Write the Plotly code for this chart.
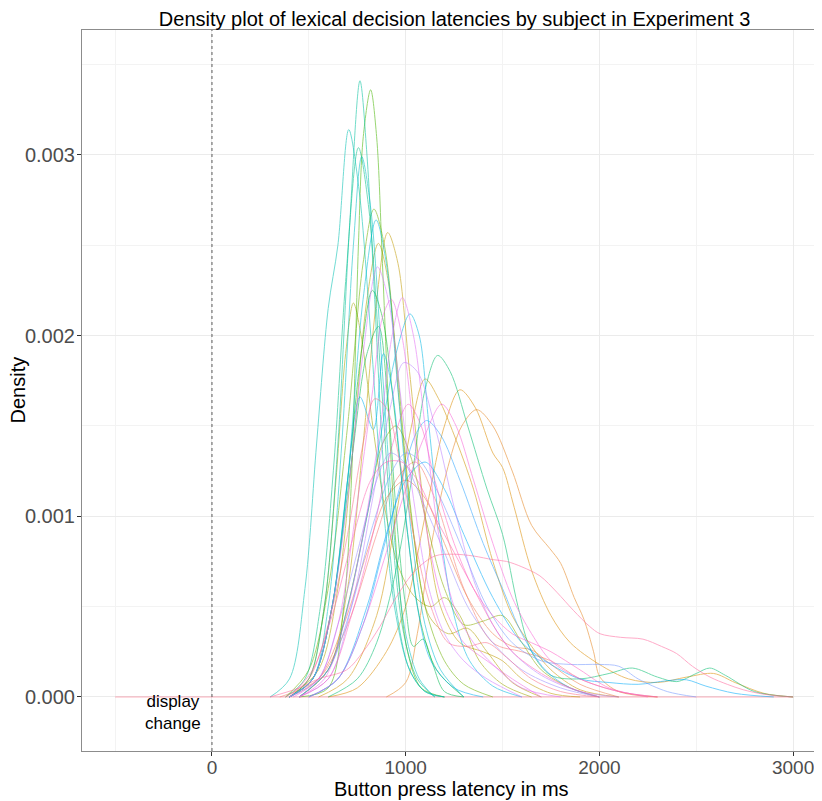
import math
import numpy as np
import plotly.graph_objects as go

# ---- data: knots of each subject's density curve (x in ms, density in units of 1e-4) ----
subject_x = [
    [-500, 350, 550, 700, 850, 950, 1050, 1150, 1300, 1450, 1600, 1750, 1900, 2100, 2300, 3000],
    [-500, 400, 550, 680, 800, 900, 1000, 1100, 1200, 1320, 1450, 1550, 1650, 1750, 1900, 2100, 3000],
    [-500, 900, 1000, 1060, 1125, 1210, 1290, 1366, 1450, 1550, 1650, 1745, 1800, 1870, 1920, 1970, 2003, 2100, 2300, 3000],
    [-500, 600, 750, 900, 1000, 1100, 1200, 1280, 1360, 1450, 1500, 1560, 1650, 1750, 1850, 2000, 2150, 2300, 2450, 2590, 2700, 2850, 3000],
    [-500, 550, 700, 850, 950, 1030, 1100, 1170, 1250, 1350, 1450, 1550, 1650, 1750, 1900, 2100, 3000],
    [-500, 450, 600, 700, 780, 850, 907, 960, 1020, 1100, 1180, 1280, 1400, 1500, 1600, 1750, 1900, 3000],
    [-500, 400, 550, 650, 730, 800, 859, 910, 970, 1040, 1120, 1220, 1320, 1420, 1550, 1700, 3000],
    [-500, 400, 500, 580, 640, 690, 730, 770, 830, 900, 970, 1050, 1130, 1200, 1280, 1380, 1500, 1650, 3000],
    [-500, 450, 600, 700, 800, 880, 950, 1020, 1100, 1200, 1300, 1400, 1500, 1600, 1700, 1850, 2000, 3000],
    [-500, 380, 500, 600, 700, 780, 836, 890, 950, 1020, 1100, 1200, 1300, 1450, 3000],
    [-500, 450, 600, 680, 720, 756, 781, 819, 850, 880, 920, 960, 1010, 1080, 1200, 3000],
    [-500, 400, 520, 620, 700, 770, 828, 880, 940, 1010, 1080, 1160, 1300, 3000],
    [-500, 400, 520, 620, 720, 800, 860, 910, 960, 1000, 1040, 1090, 1140, 1200, 1300, 3000],
    [-500, 600, 750, 850, 950, 1030, 1100, 1165, 1230, 1320, 1420, 1500, 1580, 1650, 1750, 1900, 2050, 2170, 2300, 2400, 2500, 2570, 2650, 2800, 3000],
    [-500, 380, 480, 560, 630, 690, 756, 810, 870, 930, 990, 1060, 1150, 3000],
    [-500, 400, 500, 580, 650, 710, 764, 800, 840, 890, 950, 1020, 1100, 1200, 3000],
    [-500, 300, 400, 480, 540, 600, 650, 706, 760, 820, 880, 950, 1020, 1100, 1200, 3000],
    [-500, 400, 520, 600, 670, 730, 773, 820, 880, 940, 1000, 1070, 1150, 3000],
    [-500, 400, 520, 620, 700, 780, 847, 900, 960, 1030, 1100, 1180, 1300, 3000],
    [-500, 450, 600, 700, 800, 880, 950, 1022, 1070, 1120, 1180, 1250, 1330, 1450, 1600, 3000],
    [-500, 400, 520, 620, 700, 764, 833, 885, 930, 990, 1060, 1130, 1250, 1400, 3000],
    [-500, 500, 650, 800, 900, 1000, 1100, 1200, 1300, 1450, 1600, 1750, 1900, 2050, 2200, 2350, 2450, 2550, 2700, 2900, 3000],
    [-500, 500, 650, 780, 880, 980, 1050, 1108, 1180, 1280, 1400, 1500, 1600, 1720, 1850, 2000, 3000],
    [-500, 450, 600, 720, 830, 930, 1000, 1080, 1180, 1300, 1420, 1550, 1700, 1850, 2000, 2100, 2200, 2350, 2500, 3000],
    [-500, 400, 550, 650, 750, 850, 920, 990, 1080, 1200, 1320, 1450, 1600, 1800, 2000, 3000],
    [-500, 450, 600, 720, 830, 920, 990, 1060, 1150, 1250, 1350, 1450, 1550, 1700, 1900, 2100, 3000],
    [-500, 400, 520, 620, 700, 780, 854, 910, 970, 1040, 1120, 1200, 1300, 1420, 1600, 3000],
    [-500, 450, 580, 680, 780, 870, 930, 983, 1040, 1100, 1170, 1250, 1350, 1450, 1600, 1800, 3000],
    [-500, 420, 550, 650, 740, 830, 880, 926, 980, 1050, 1120, 1200, 1300, 1420, 1550, 1700, 3000],
    [-500, 500, 650, 780, 900, 1000, 1100, 1186, 1260, 1350, 1450, 1550, 1650, 1750, 1900, 2100, 2300, 3000],
    [-500, 450, 600, 720, 830, 920, 1013, 1080, 1150, 1250, 1350, 1450, 1550, 1650, 1750, 1900, 2050, 2250, 3000],
    [-500, 400, 520, 620, 720, 820, 900, 980, 1060, 1150, 1250, 1350, 1450, 1550, 1700, 1850, 2000, 3000],
    [-500, 300, 450, 550, 695, 780, 867, 950, 1050, 1150, 1250, 1350, 1450, 1521, 1600, 1693, 1780, 1865, 1950, 2003, 2110, 2225, 2320, 2399, 2480, 2571, 2660, 2742, 2850, 3000],
    [-500, 380, 500, 600, 700, 780, 840, 900, 970, 1050, 1130, 1220, 1320, 1420, 1520, 1650, 1800, 2000, 3000],
]
subject_density_e4 = [
    [0, 0, 1, 4, 9, 12, 13, 11, 6, 3, 2.5, 2, 1, 0.3, 0, 0],
    [0, 0, 1, 4, 8, 11, 12, 11, 8.5, 5.5, 3.5, 2.8, 2.6, 1.8, 0.7, 0, 0],
    [0, 0, 0.8, 3.5, 8, 12.4, 15, 15.9, 15, 12.5, 9.5, 8.2, 7.4, 5.5, 4.3, 2.5, 1.1, 0.3, 0, 0],
    [0, 0, 0.5, 2.5, 5, 10, 15, 17, 16, 13.5, 12.7, 10.5, 7, 4.5, 3, 1.8, 1, 0.8, 1.1, 1.3, 0.8, 0.2, 0],
    [0, 0, 1, 4.5, 10, 15, 17.6, 16.5, 14.5, 11.5, 7.5, 4.5, 2.8, 1.5, 0.4, 0, 0],
    [0, 0, 1.5, 6, 14, 22, 25.7, 24, 18, 10, 5, 3, 2.5, 2, 1, 0.2, 0, 0],
    [0, 0, 1.5, 6, 14, 22, 25.1, 23, 16, 9, 4.5, 3.5, 3.8, 2.5, 0.8, 0, 0],
    [0, 0, 1, 5, 12, 19, 21.8, 20, 15, 10, 7, 5.5, 5, 5.5, 4.5, 2, 0.7, 0, 0],
    [0, 0, 1.5, 5, 10, 14, 15, 13.5, 10, 6, 4, 4.2, 4.5, 3, 1.5, 0.5, 0, 0],
    [0, 0, 1.5, 6, 15, 24, 27, 25, 19, 11, 5, 2, 0.7, 0, 0],
    [0, 0, 0.5, 5, 12, 25, 31, 33.6, 31, 24, 14, 7, 2.5, 0.5, 0, 0],
    [0, 0, 1, 5, 12, 19, 22.5, 21, 16, 9, 4, 1.5, 0, 0],
    [0, 0, 1, 5, 13, 19, 20.5, 16, 9, 5, 2.8, 3.2, 1.8, 0.3, 0, 0],
    [0, 0, 1, 3, 7, 12, 17, 18.9, 18, 15, 11.5, 9, 5, 2.5, 1.2, 1, 1.3, 1.6, 1.1, 0.85, 1.3, 1.6, 1.2, 0.3, 0],
    [0, 0, 1, 5, 13, 23, 30.4, 27, 18, 9, 3.5, 1, 0, 0],
    [0, 0, 1, 5, 14, 26, 34.1, 30, 22, 12, 5, 1.5, 0.3, 0, 0],
    [0, 0, 1, 6, 14, 21.5, 25, 31.4, 28, 20, 11, 4.5, 1.5, 0.3, 0, 0],
    [0, 0, 1, 5, 14, 25, 29.9, 27, 18, 9, 3.5, 1, 0, 0],
    [0, 0, 1, 5, 12, 22, 26.4, 24, 17, 9, 4, 1.5, 0, 0],
    [0, 0, 1.5, 5, 10, 15, 19, 21.2, 20, 15, 9, 4.5, 2, 0.6, 0, 0],
    [0, 0, 1, 5, 12, 16.6, 14.8, 19, 17, 11, 5, 2, 0.5, 0, 0],
    [0, 0, 1, 5, 9, 12, 13, 11.5, 9, 5.5, 3, 1.8, 1, 0.8, 0.7, 0.9, 0.95, 0.6, 0.2, 0, 0],
    [0, 0, 1, 4, 8, 12, 14.5, 15.3, 14.5, 12, 8.5, 6, 3.5, 1.5, 0.5, 0, 0],
    [0, 0, 1.5, 5, 9.5, 12.5, 13.5, 13, 11, 8, 5, 3, 2, 1.8, 1.8, 1.7, 1, 0.3, 0, 0],
    [0, 0, 1, 4, 8, 12, 13.5, 13, 11, 8, 5, 3, 1.5, 0.5, 0, 0],
    [0, 0, 1, 5, 11, 16, 18.5, 18, 15, 10.5, 6.5, 4, 2.5, 1.2, 0.3, 0, 0],
    [0, 0, 1, 5, 11, 19, 23.8, 22, 17, 11, 6, 3.5, 2, 1, 0, 0],
    [0, 0, 1, 4, 9, 15, 20, 22.1, 20, 15, 9, 5, 3, 1.8, 0.5, 0, 0],
    [0, 0, 1, 4, 10, 17, 21, 22, 20, 14, 8.5, 5, 3, 2, 1, 0, 0],
    [0, 0, 1, 4, 8, 11.5, 14.5, 16.2, 15, 12, 8.5, 5.5, 3.5, 2, 1, 0.3, 0, 0],
    [0, 0, 1, 4.5, 9, 13.5, 16.2, 15, 12, 8.5, 6, 4.5, 3.5, 3, 2.5, 1.5, 0.5, 0, 0],
    [0, 0, 1.5, 4.5, 8.5, 12, 13, 13, 12, 10, 8, 6, 4, 2.5, 1.3, 0.5, 0, 0],
    [0, 0, 0.5, 1, 1.5, 2.5, 3.9, 5.5, 7, 7.8, 7.9, 7.8, 7.6, 7.5, 7.2, 6.7, 5.8, 4.8, 3.9, 3.5, 3.3, 3.2, 2.8, 2.4, 1.7, 1.1, 0.7, 0.4, 0.15, 0],
    [0, 0, 1, 4, 9, 14, 16.5, 16, 13, 8.5, 5, 3, 2.8, 3, 2.2, 1, 0.3, 0, 0],
]

x_ticks = [0, 1000, 2000, 3000]
y_ticks = [0.000, 0.001, 0.002, 0.003]
y_tick_labels = ["0.000", "0.001", "0.002", "0.003"]


def hcl_hex(h, c=100.0, l=65.0):
    hr = math.radians(h)
    u = c * math.cos(hr)
    v = c * math.sin(hr)
    Xn, Yn, Zn = 95.047, 100.0, 108.883
    den = Xn + 15 * Yn + 3 * Zn
    un, vn = 4 * Xn / den, 9 * Yn / den
    Y = Yn * ((l + 16) / 116) ** 3
    up = u / (13 * l) + un
    vp = v / (13 * l) + vn
    X = Y * 9 * up / (4 * vp)
    Z = Y * (12 - 3 * up - 20 * vp) / (4 * vp)
    X, Y, Z = X / 100, Y / 100, Z / 100
    r = 3.2404542 * X - 1.5371385 * Y - 0.4985314 * Z
    g = -0.9692660 * X + 1.8760108 * Y + 0.0415560 * Z
    b = 0.0556434 * X - 0.2040259 * Y + 1.0572252 * Z

    def gam(t):
        t = 12.92 * t if t <= 0.0031308 else 1.055 * t ** (1 / 2.4) - 0.055
        return int(round(min(1, max(0, t)) * 255))

    return "#%02x%02x%02x" % (gam(r), gam(g), gam(b))


n = len(subject_x)
hues = np.linspace(15, 375, n + 1)[:n] % 360
colors = [hcl_hex(h) for h in hues]

fig = go.Figure()

# zero baseline shared by all curves over the evaluated range (top-most colour shows)
all_x = [v for xs in subject_x for v in xs]
fig.add_trace(go.Scatter(
    x=[min(all_x), max(all_x)], y=[0, 0], mode="lines",
    line=dict(color=colors[-1], width=1), opacity=0.55,
    showlegend=False, hoverinfo="skip"))

for i in range(n):
    xs = np.array(subject_x[i], dtype=float)
    ys = np.array(subject_density_e4[i], dtype=float) * 1e-4
    nz = np.nonzero(ys)[0]
    lo = max(nz[0] - 1, 0)
    hi = min(nz[-1] + 1, len(ys) - 1)
    fig.add_trace(go.Scatter(
        x=xs[lo:hi + 1], y=ys[lo:hi + 1],
        mode="lines",
        line=dict(color=colors[i], width=1, shape="spline", smoothing=0.9),
        opacity=0.55,
        showlegend=False,
        hoverinfo="skip",
    ))

font_family = "Liberation Sans, Arial, sans-serif"

fig.add_shape(type="line", x0=0, x1=0, y0=0, y1=1, xref="x", yref="paper",
              line=dict(color="#333333", width=0.8, dash="dot"))

fig.add_annotation(x=-200, y=-0.000085, text="display<br>change", showarrow=False,
                   font=dict(family=font_family, size=17, color="black"), align="center")

# axis titles placed as annotations for precise positioning
fig.add_annotation(x=0.5, y=0, xref="paper", yref="paper", yanchor="top", yshift=-25,
                   text="Button press latency in ms", showarrow=False,
                   font=dict(family=font_family, size=20, color="black"))
fig.add_annotation(x=0, y=0.5, xref="paper", yref="paper", xanchor="center", xshift=-65,
                   text="Density", textangle=-90, showarrow=False,
                   font=dict(family=font_family, size=20, color="black"))

# the page body adds an 8px margin, so the figure is sized 8px smaller
fig.update_layout(
    width=814, height=793,
    paper_bgcolor="white", plot_bgcolor="white",
    margin=dict(l=74, r=1, t=22, b=50, autoexpand=False),
    title=dict(text="Density plot of lexical decision latencies by subject in Experiment 3",
               x=0.5486, xanchor="center", y=0.986, yanchor="middle",
               font=dict(family=font_family, size=20, color="black")),
    xaxis=dict(range=[-671, 3144], tickvals=x_ticks, ticktext=[str(t) for t in x_ticks],
               automargin=False,
               showgrid=True, gridcolor="#EBEBEB", gridwidth=1,
               minor=dict(tickvals=[-500, 500, 1500, 2500], showgrid=True, gridcolor="#F3F3F3", gridwidth=0.6),
               zeroline=False, showline=True, linecolor="#8C8C8C", linewidth=1, mirror=True,
               ticks="outside", ticklen=4, tickcolor="#333333", ticklabelstandoff=-5,
               tickfont=dict(family=font_family, size=19, color="#4D4D4D")),
    yaxis=dict(range=[-0.000299, 0.003691], tickvals=y_ticks, ticktext=y_tick_labels,
               automargin=False,
               showgrid=True, gridcolor="#EBEBEB", gridwidth=1,
               minor=dict(tickvals=[0.0005, 0.0015, 0.0025, 0.0035], showgrid=True, gridcolor="#F3F3F3", gridwidth=0.6),
               zeroline=False, showline=True, linecolor="#8C8C8C", linewidth=1, mirror=True,
               ticks="outside", ticklen=4, tickcolor="#333333", ticklabelstandoff=-2,
               tickfont=dict(family=font_family, size=20, color="#4D4D4D")),
)

fig.write_html("out.html")
